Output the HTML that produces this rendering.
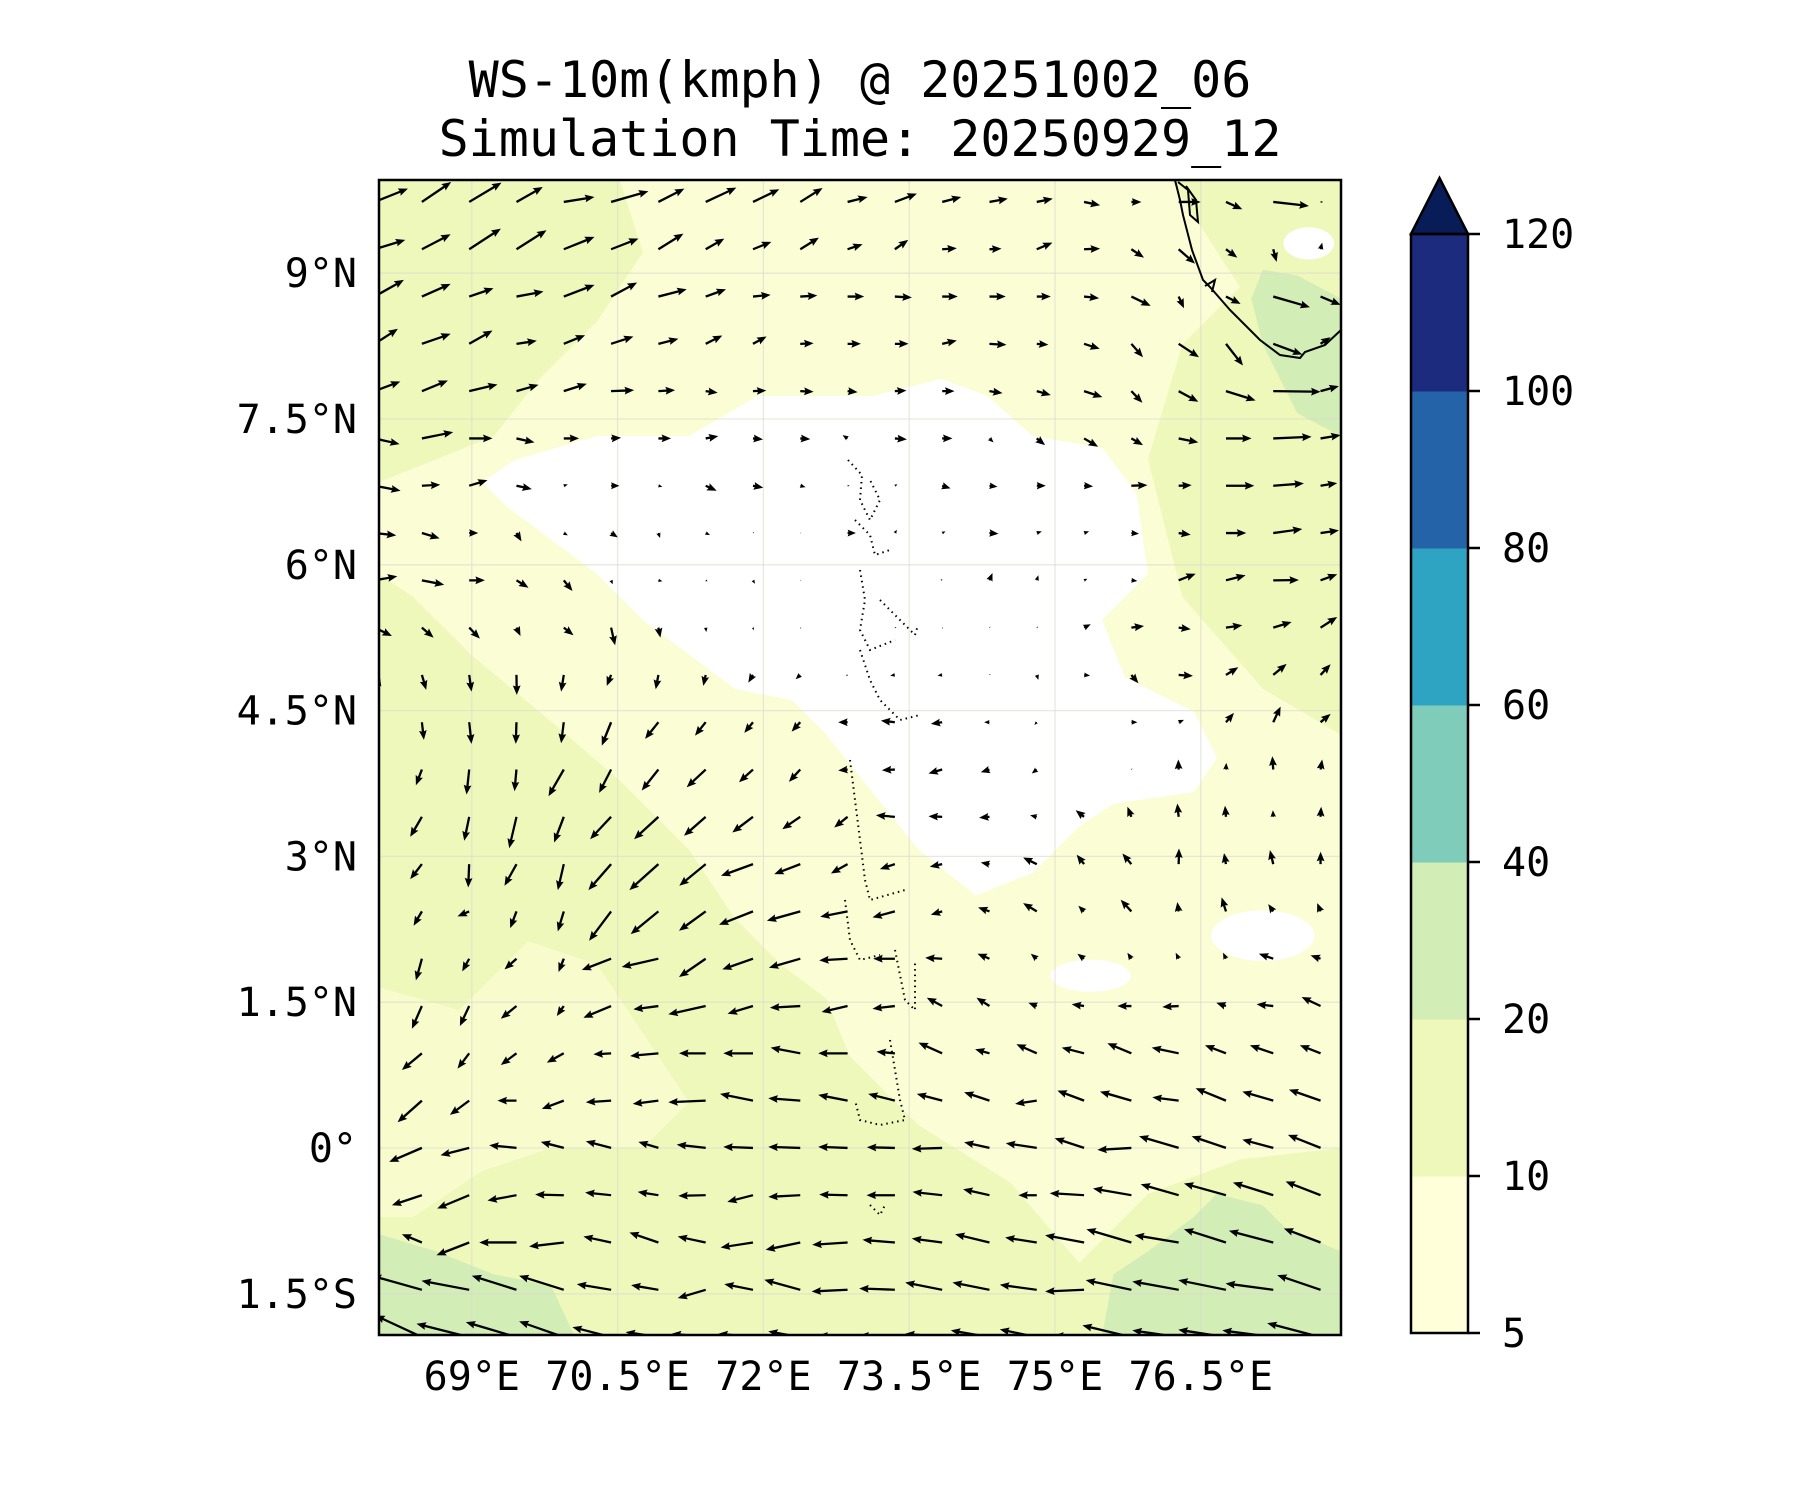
<!DOCTYPE html>
<html><head><meta charset="utf-8"><style>
html,body{margin:0;padding:0;background:#fff;}
svg text{font-family:"DejaVu Sans Mono","Liberation Mono",monospace;fill:#000;}
</style></head><body>
<svg id="chart" width="1800" height="1500" viewBox="0 0 1800 1500" xmlns="http://www.w3.org/2000/svg">
<defs><clipPath id="plotclip"><rect x="379" y="180" width="962" height="1155"/></clipPath></defs>
<text x="860" y="97" font-size="50" text-anchor="middle">WS-10m(kmph) @ 20251002_06</text>
<text x="860" y="156" font-size="50" text-anchor="middle">Simulation Time: 20250929_12</text>
<g id="plot" clip-path="url(#plotclip)">
 <g id="contours" transform="scale(1.148)">
  <rect x="330" y="157" width="838" height="1006" fill="#eff8bb"/>
  <polygon fill="#fbfdd4" points="540,157 1020,157 1080,250 1030,300 1000,400 1030,520 1100,600 1168,640 1168,1000 1080,1010 1000,1040 940,1100 880,1030 800,980 740,920 720,870 680,840 640,800 600,740 540,680 470,620 410,570 360,520 330,500 330,420 380,400 430,380 470,330 520,280 560,220"/>
  <polygon fill="#f8fccc" points="330,860 400,880 460,820 520,840 560,900 600,960 560,1000 480,1000 420,1020 360,1060 330,1060"/>
  <polygon fill="#ffffff" points="450,400 520,380 600,380 660,345 760,345 820,330 860,345 900,380 960,390 990,430 1000,500 960,540 980,590 1040,620 1060,660 1040,690 970,700 940,720 900,760 850,780 800,740 760,690 720,640 690,610 640,600 600,570 560,540 520,500 480,470 440,440 420,420"/>
  <ellipse cx="1100" cy="815" rx="45" ry="22" fill="#fff"/>
  <ellipse cx="950" cy="850" rx="35" ry="14" fill="#fff"/>
  <ellipse cx="1140" cy="212" rx="22" ry="14" fill="#fff"/>
  <polygon fill="#d2edb5" points="330,1075 380,1090 430,1110 480,1120 500,1163 330,1163"/>
  <polygon fill="#d2edb5" points="960,1163 970,1110 1000,1090 1040,1060 1060,1040 1100,1050 1120,1070 1168,1090 1168,1163"/>
  <polygon fill="#d2edb5" points="1100,235 1130,240 1168,260 1168,380 1130,360 1100,300 1090,260"/>
 </g>
 <g id="grid"></g>
 <path fill="none" stroke="#000" stroke-width="2" d="M1175,180 L1180,200 L1183,215 L1192,250 L1203,280 L1210,287 L1230,310 L1260,340 L1280,355 L1300,358 L1305,352 L1325,345 L1341,330 M1178,182 L1188,190 L1190,215 L1198,222 L1196,200 L1186,186 M1205,286 L1215,280 L1212,292"/>
 <g id="islands" fill="none" stroke="#000" stroke-width="2" stroke-dasharray="1.5 4">
  <path d="M848,460 L862,475 L860,500 L870,520 L880,500 L870,480"/>
  <path d="M855,520 L870,535 L875,555 L890,550"/>
  <path d="M860,570 L865,600 L860,630 L870,650 L895,640"/>
  <path d="M880,600 L900,620 L915,635 L918,625"/>
  <path d="M860,650 L870,680 L880,700 L900,720 L920,715"/>
  <path d="M850,760 L855,800 L860,840 L865,880 L870,900 L905,890"/>
  <path d="M845,900 L850,940 L860,960 L880,955"/>
  <path d="M895,950 L900,975 L905,1000 L915,1010 L915,960"/>
  <path d="M890,1040 L895,1070 L900,1100 L905,1120 L880,1125 L860,1120 L855,1100"/>
  <path d="M870,1205 L880,1215 L885,1205"/>
 </g>
 <g id="arrows"></g>
</g>
<rect x="379" y="180" width="962" height="1155" fill="none" stroke="#000" stroke-width="2.5"/>
<g id="xticks"></g>
<g id="yticks"></g>
<g id="cbar"></g>
</svg>
<script>
const lonTicks=[69,70.5,72,73.5,75,76.5];
const lonLabels=["69°E","70.5°E","72°E","73.5°E","75°E","76.5°E"];
const latTicks=[9,7.5,6,4.5,3,1.5,0,-1.5];
const latLabels=["9°N","7.5°N","6°N","4.5°N","3°N","1.5°N","0°","1.5°S"];
const cbarLevels=[5,10,20,40,60,80,100,120];
const cbarColors=["#ffffd9","#eff8bb","#d2edb5","#7fccbb","#2fa3c2","#2463a8","#1d2b7e"];
const gridLon0=68, gridLat0=9.733, gridStep=0.4866;
// wind components (display units, east / north)
const U=[
[100,88,97,79,92,112,78,92,79,67,60,66,57,55,48,48,30,66,49,107,8],
[92,86,95,90,92,82,75,56,55,56,45,40,44,36,47,48,38,49,34,10,5],
[88,86,73,81,92,78,85,61,53,51,50,51,47,49,42,45,58,16,44,110,60],
[70,86,70,61,64,67,60,50,41,40,40,41,44,51,35,47,35,61,51,87,30],
[77,78,85,66,69,69,50,36,40,40,30,35,37,39,42,55,33,59,89,142,55],
[75,94,70,54,46,30,38,38,30,30,-15,36,31,12,25,42,35,59,77,115,60],
[78,55,55,46,12,25,12,33,31,16,6,8,25,24,27,27,48,39,85,92,50],
[65,53,27,15,12,20,5,13,3,3,25,6,10,27,15,15,23,36,61,87,55],
[68,67,47,36,26,5,12,6,6,3,0,0,-5,9,5,10,18,51,59,77,50],
[52,35,32,12,29,12,6,2,2,3,0,5,3,3,4,20,38,36,49,55,50],
[20,13,7,1,-8,-13,-8,-7,-14,-14,-5,-14,-14,3,5,18,21,43,37,40,30],
[0,6,7,-2,-8,-28,-40,-32,-26,-26,-28,-42,-34,-16,-7,0,18,16,24,22,30],
[0,-18,-8,-6,-46,-36,-50,-57,-42,-34,-28,-39,-41,-26,-15,0,3,-1,1,-3,5],
[0,-35,-15,-22,-29,-63,-73,-65,-62,-54,-40,-57,-41,-31,-20,-25,-12,-4,-3,-1,2],
[0,-35,-3,-36,-18,-68,-87,-79,-96,-78,-50,-45,-37,-26,-41,-22,-27,1,-6,-10,0],
[0,-25,-35,-19,-18,-66,-83,-80,-102,-100,-82,-67,-34,-34,-41,-17,-32,-4,-13,-15,-10],
[0,-18,-21,-36,-16,-88,-110,-80,-92,-94,-85,-65,-51,-36,-18,-20,-12,-9,-9,-43,-30],
[0,-30,-28,-47,-21,-83,-75,-112,-76,-91,-78,-67,-46,-39,-25,-37,-42,-49,-29,-50,-57],
[0,-60,-35,-47,-51,-53,-85,-80,-89,-89,-88,-55,-71,-43,-61,-67,-72,-81,-63,-70,-62],
[0,-73,-58,-57,-66,-76,-77,-112,-99,-96,-88,-80,-76,-76,-65,-80,-94,-79,-91,-93,-95],
[0,-98,-86,-82,-69,-76,-60,-87,-89,-96,-88,-84,-91,-76,-93,-88,-102,-119,-103,-93,-98],
[0,-90,-96,-87,-86,-78,-62,-82,-77,-96,-85,-85,-89,-79,-55,-103,-115,-114,-126,-121,-105],
[0,-60,-98,-112,-104,-83,-87,-84,-97,-104,-106,-97,-91,-103,-95,-117,-135,-132,-126,-133,-110],
[-100,-150,-143,-134,-134,-103,-82,-84,-86,-108,-108,-107,-111,-111,-111,-117,-137,-139,-143,-143,-130],
[-140,-140,-158,-152,-134,-116,-98,-102,-104,-96,-88,-107,-111,-116,-111,-90,-147,-139,-143,-153,-160]];
const V=[
[40,60,58,45,15,32,40,43,38,42,15,25,15,10,10,-10,0,0,-22,-12,0],
[28,45,62,57,37,32,47,32,22,35,15,28,3,2,20,2,-25,-43,-25,-38,20],
[50,38,25,15,35,42,22,22,5,3,0,-3,0,0,0,-5,-28,-35,-22,-32,-25],
[45,30,40,9,26,22,15,25,22,2,0,0,10,-3,-3,-15,-40,-40,-65,-32,20],
[29,32,20,19,22,3,3,-5,2,-2,-3,2,0,-6,-12,-18,-35,-32,-28,-2,15],
[-17,19,0,-12,0,2,0,7,-3,-2,10,-3,0,-12,-20,-25,-20,-12,0,5,10],
[-15,3,17,-10,4,0,-3,-15,-6,-4,0,4,-8,-3,0,-2,2,2,0,7,8],
[-7,-16,0,-25,-7,-13,-15,-6,3,0,0,10,5,-2,5,5,-2,-5,0,12,8],
[12,-13,0,-22,-32,-12,-3,-3,-10,0,0,0,3,22,15,5,-2,20,15,1,18],
[-25,-30,-33,-25,-23,-53,-30,-13,-8,-3,0,0,-3,3,3,10,5,-5,7,17,32],
[-35,-45,-50,-60,-50,-33,-43,-33,-23,-13,-3,-2,-2,3,-15,-2,-25,-3,23,33,32],
[-20,-53,-65,-65,-63,-70,-50,-40,-32,-28,0,5,-5,0,-8,0,0,7,28,47,25],
[-15,-47,-75,-65,-80,-70,-63,-53,-38,-37,-3,-2,-12,-8,-12,0,3,30,20,40,30],
[-20,-60,-72,-94,-77,-67,-67,-57,-47,-37,-32,5,2,-3,5,20,30,40,33,20,30],
[-15,-45,-70,-65,-78,-78,-78,-65,-35,-30,-28,-15,-8,5,20,28,32,47,33,42,37],
[-10,-43,-15,-50,-60,-88,-68,-58,-40,-28,-16,-18,-10,12,25,17,35,28,42,22,25],
[-5,-65,-38,-32,-40,-34,-25,-55,-32,-27,-5,0,3,15,15,15,18,18,18,15,10],
[0,-68,-60,-38,-30,-35,-10,-25,-23,-5,-18,-8,25,25,10,5,0,-3,10,5,27],
[0,-50,-46,-35,-28,-3,-8,0,0,17,0,5,32,12,27,17,30,17,24,24,24],
[0,-65,-43,0,-25,-5,-10,-5,20,7,17,20,20,25,-10,30,27,10,37,27,33],
[0,-42,-22,8,18,20,18,10,3,3,3,2,-3,17,14,29,-6,35,35,25,39],
[0,-30,-40,-16,2,8,10,-2,-20,-5,2,0,10,18,0,6,20,33,35,38,41],
[0,25,-38,0,-12,18,30,18,-15,-22,-7,8,12,25,15,22,40,22,40,35,42],
[30,42,27,42,42,17,14,-25,17,30,-5,4,22,22,15,-5,29,25,29,19,44],
[60,65,40,45,47,30,15,10,10,17,5,5,10,20,23,5,35,20,22,20,42]];

const NS="http://www.w3.org/2000/svg";
const PX=97.2;
function xOf(lon){return 471.8+(lon-69)*PX;}
function yOf(lat){return 273.2+(9-lat)*PX;}
const vecScale=1/3;
function mk(tag,attrs,parent){const e=document.createElementNS(NS,tag);for(const k in attrs)e.setAttribute(k,attrs[k]);parent.appendChild(e);return e;}

const grid=document.getElementById('grid');
lonTicks.forEach(function(lon){
 const l=mk('line',{x1:xOf(lon),x2:xOf(lon),y1:180,y2:1335,stroke:'#d8d8d0','stroke-width':1.3,'stroke-opacity':0.6},grid);
 
 
});
latTicks.forEach(function(lat){
 const l=mk('line',{x1:379,x2:1341,y1:yOf(lat),y2:yOf(lat),stroke:'#d8d8d0','stroke-width':1.3,'stroke-opacity':0.6},grid);
 
 
});

const ag=document.getElementById('arrows');
const W=2.3,HL=9.5,HA=8.5,HW=3.9;
for(let r=0;r<U.length;r++){
 for(let c=0;c<U[r].length;c++){
  const u=U[r][c]*vecScale, v=V[r][c]*vecScale;
  const L=Math.hypot(u,v);
  if(L<0.8) continue;
  const x0=xOf(gridLon0+c*gridStep), y0=yOf(gridLat0-r*gridStep);
  let pts;
  if(L>=HL){
   pts=[[0,-W/2],[L-HA,-W/2],[L-HL,-HW],[L,0],[L-HL,HW],[L-HA,W/2],[0,W/2]];
  } else {
   const s=L/HL;
   pts=[[0,-W/2*s],[(HL-HA)*s,-W/2*s],[0,-HW*s],[L,0],[0,HW*s],[(HL-HA)*s,W/2*s],[0,W/2*s]];
  }
  const ang=Math.atan2(-v,u);
  const ca=Math.cos(ang), sa=Math.sin(ang);
  const p=pts.map(function(q){return (x0+q[0]*ca-q[1]*sa).toFixed(1)+','+(y0+q[0]*sa+q[1]*ca).toFixed(1);}).join(' ');
  const a=mk('polygon',{points:p,fill:'#000'},ag);
  
  
 }
}

const xt=document.getElementById('xticks');
lonTicks.forEach(function(lon,i){
 const t=mk('text',{x:xOf(lon),y:1390,'font-size':40,'text-anchor':'middle'},xt);
 t.textContent=lonLabels[i];
 
 
});
const yt=document.getElementById('yticks');
latTicks.forEach(function(lat,i){
 const t=mk('text',{x:357,y:yOf(lat)+14,'font-size':40,'text-anchor':'end'},yt);
 t.textContent=latLabels[i];
 
 
});

const cb=document.getElementById('cbar');
const cbX=1411,cbW=57,cbTop=234,cbBot=1333;
const segH=(cbBot-cbTop)/(cbarLevels.length-1);
function cbY(i){return cbBot-i*segH;}
cbarColors.forEach(function(col,i){
 const r=mk('rect',{x:cbX,y:cbY(i+1),width:cbW,height:segH+0.5,fill:col},cb);
 
 
});
const tri=mk('polygon',{points:cbX+','+cbTop+' '+(cbX+cbW/2)+',178 '+(cbX+cbW)+','+cbTop,fill:'#081d58',stroke:'#000','stroke-width':2.5,'stroke-linejoin':'miter'},cb);


const ob=mk('rect',{x:cbX,y:cbTop,width:cbW,height:cbBot-cbTop,fill:'none',stroke:'#000','stroke-width':2.5},cb);


cbarLevels.forEach(function(lv,i){
 const tk=mk('line',{x1:cbX+cbW,x2:cbX+cbW+12,y1:cbY(i),y2:cbY(i),stroke:'#000','stroke-width':2.5},cb);
 
 
 const t=mk('text',{x:1502,y:cbY(i)+14,'font-size':40},cb);
 t.textContent=String(lv);
 
 
});
</script>
</body></html>
